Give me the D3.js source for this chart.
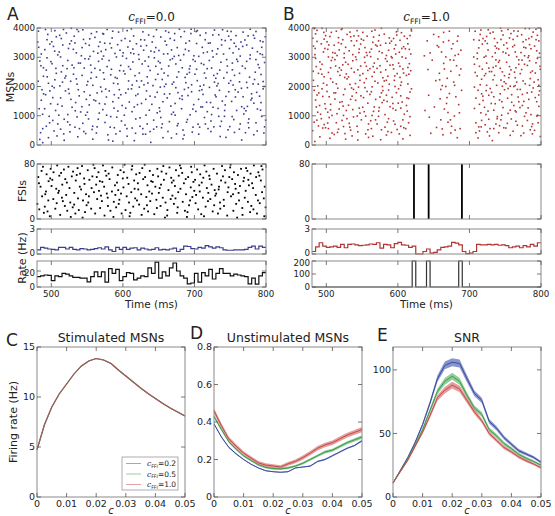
<!DOCTYPE html>
<html><head><meta charset="utf-8">
<script src="https://cdn.jsdelivr.net/npm/d3@7"></script>
<style>body{margin:0;background:#fff}text{font-family:"DejaVu Sans",sans-serif;fill:#222}</style>
</head><body><svg id="c" width="555" height="516"></svg>
<script>
// ---------- DATA ----------
const timeTicks=[500,600,700,800];
const msnTicks=[0,1000,2000,3000,4000];
const fsiTicks=[0,80];
const msnRateTicks=[0,3];
const fsiRateTicksA=[0,20];
const fsiRateTicksB=[0,100,200];
const titles=["0.0","1.0"];
const rateBinWidth=5;

// spike rasters, flat [time(ms), neuron id, ...]
const msnSpikesA=[481,3520,483,1240,484,2870,485,420,486,3110,487,1890,488,560,489,2350,482,3890,486,1530,488,80,489,2640,
491,3260,492,1720,493,640,494,2980,495,3780,496,2110,497,980,498,3450,499,1410,493,2560,496,250,498,1850,494,3600,
501,2780,502,840,503,3370,504,1960,505,3910,506,1180,507,2450,508,310,509,3080,502,1620,505,2230,507,3700,509,720,
511,3180,512,2020,513,540,514,3640,515,1330,516,2710,517,3950,518,880,519,2290,513,1610,516,3420,518,160,514,2500,
521,3830,522,2610,523,1040,524,3300,525,1760,526,450,527,2180,528,3560,529,1290,523,2890,526,690,528,3990,524,1910,
531,2420,532,3720,533,610,534,1450,535,3150,536,2080,537,280,538,2800,539,1680,533,3490,536,960,538,3880,535,2260,
541,1130,542,3050,543,2380,544,740,545,3610,546,1820,547,2950,548,390,549,1560,543,3330,546,2630,548,1020,544,3940,
551,2170,552,890,553,3410,554,1700,555,2730,556,3810,557,530,558,2040,559,3200,553,1370,556,2480,558,200,554,3030,
561,3680,562,1510,563,2320,564,620,565,3140,566,2860,567,1090,568,3520,569,1980,563,410,566,3370,568,2560,564,1780,
571,2940,572,1210,573,3790,574,2250,575,770,576,3260,577,1640,578,2680,579,350,573,3040,576,1910,578,3950,575,1400,
581,1850,582,3470,583,970,584,2590,585,3660,586,1480,587,2110,588,590,589,3130,583,2400,586,130,588,1720,584,3320,
591,3010,592,2280,593,1160,594,3860,595,1890,596,470,597,2720,598,3570,599,1350,593,2090,596,3240,598,820,594,1610,
601,2530,602,1020,603,3640,604,1780,605,2960,606,300,607,3350,608,2190,609,1470,603,680,606,3910,608,2680,604,1260,
611,3150,612,1920,613,580,614,2840,615,3730,616,1300,617,2370,618,890,619,3460,613,2050,616,150,618,1690,614,3280,
621,1740,622,3090,623,2460,624,930,625,3600,626,1420,627,2770,628,370,629,3240,623,1980,626,2190,628,3870,624,640,
631,2870,632,1560,633,3400,634,720,635,2120,636,3760,637,1190,638,2550,639,90,633,1850,636,3010,638,460,634,2330,
641,3520,642,2030,643,850,644,3180,645,1640,646,2690,647,3940,648,1100,649,2420,643,540,646,3330,648,1800,644,2980,
651,1270,652,2810,653,3690,654,590,655,2240,656,1480,657,3110,658,2000,659,3550,653,940,656,250,658,1740,654,2600,
661,3420,662,1610,663,2370,664,3850,665,800,666,2910,667,1330,668,3250,669,2080,663,460,666,3640,668,1050,664,2700,
671,2150,672,3580,673,1020,674,2770,675,380,676,3330,677,1790,678,2500,679,3960,673,1420,676,660,678,3060,674,1960,
681,3700,682,1240,683,2640,684,510,685,3090,686,1900,687,2310,688,3480,689,780,683,1560,686,3880,688,2130,684,210,
691,1690,692,3220,693,2480,694,1030,695,3810,696,2060,697,440,698,2920,699,1380,693,3560,696,1820,698,610,694,2700,
701,2860,702,1150,703,3470,704,2200,705,710,706,3030,707,1860,708,3750,709,1300,703,2590,706,370,708,2010,704,3910,
711,3340,712,1730,713,2750,714,940,715,3600,716,2290,717,1460,718,3180,719,560,713,2050,716,3830,718,1140,714,2460,
721,1970,722,3490,723,820,724,2630,725,3220,726,1290,727,2380,728,3930,729,1710,723,460,726,3010,728,2150,724,1040,
731,3110,732,2440,733,1250,734,3770,735,1870,736,640,737,2830,738,3420,739,1500,733,2100,736,290,738,3600,734,980,
741,2290,742,980,743,3570,744,1660,745,2920,746,3890,747,520,748,2110,749,3300,743,1370,746,2700,748,1820,744,260,
751,3600,752,1490,753,2570,754,3150,755,870,756,2380,757,1890,758,3740,759,1180,753,2800,756,430,758,3370,754,2050,
761,1810,762,3280,763,2160,764,720,765,3520,766,1310,767,2700,768,3860,769,1060,763,2450,766,170,768,1650,764,3040,
771,2620,772,1170,773,3420,774,1960,775,3730,776,590,777,2320,778,3080,779,1540,773,2860,776,890,778,3960,774,1320,
781,3310,782,2090,783,1430,784,3650,785,2490,786,760,787,1800,788,3190,789,2750,783,350,786,3880,788,1230,784,2240,
791,1670,792,3560,793,2410,794,980,795,3090,796,1920,797,410,798,2820,799,3700,793,1450,796,2170,798,620,794,3340,
485.5,2710,487.8,1050,482.3,3340,489.2,1750,483.9,190,481.6,2180,491.8,3950,494.3,2330,497.6,760,490.7,1240,499.4,2850,
500.6,3530,503.8,480,506.4,2620,508.9,1390,501.2,2010,504.7,3210,510.4,1020,512.9,3010,515.6,2150,517.3,380,519.8,1850,511.7,3750,
520.3,2360,522.8,790,525.7,3460,527.4,1560,529.1,2730,530.8,3270,533.5,1170,535.9,3950,537.7,1890,539.3,560,531.6,2640,
540.6,2800,542.7,1310,545.4,460,547.9,3470,549.6,2050,550.4,1120,553.7,3630,555.3,2280,557.8,640,559.5,1540,552.2,2940,
560.9,2620,563.3,3870,565.6,880,567.2,1420,569.7,3200,570.5,1830,572.8,2470,574.6,3480,577.3,1020,579.9,170,571.9,3810,
580.7,2890,582.3,610,585.8,3890,587.6,1260,589.4,2310,590.3,380,592.7,3430,595.5,2540,597.2,1720,599.6,3040,591.4,950,
600.4,3150,602.9,2430,605.7,560,607.5,1910,609.8,3550,610.6,2590,612.8,1140,615.2,3120,617.7,400,619.3,2190,611.9,3970,
620.4,1380,622.6,2930,625.2,3380,627.8,560,629.5,2060,630.3,3590,632.4,1020,635.6,2690,637.9,1670,639.2,3210,631.7,370,
640.5,1390,642.9,3710,645.7,2240,647.2,620,649.6,2860,650.4,3230,652.3,1980,655.1,720,657.6,2460,659.8,3900,651.7,1150,
660.2,2080,662.7,3120,665.4,1750,667.9,240,669.3,2950,670.6,1120,672.4,3810,675.5,2320,677.2,730,679.4,1590,671.8,3030,
680.5,2900,682.8,1680,685.6,340,687.3,3270,689.7,2420,690.2,870,692.9,2600,695.4,3960,697.7,1230,699.3,3050,691.5,1960,
700.7,2420,702.5,3880,705.8,1560,707.3,610,709.6,2790,710.4,1890,712.6,3150,715.3,720,717.8,2610,719.5,3480,711.3,1300,
720.8,2890,722.5,1450,725.7,3760,727.1,620,729.9,2280,730.2,1650,732.6,3290,735.4,2560,737.7,810,739.3,3940,731.4,2020,
740.7,3110,742.2,1180,745.5,2480,747.8,3720,749.4,630,750.6,2200,752.7,970,755.6,3480,757.3,1640,759.1,2930,751.2,3880,
760.4,2860,762.8,540,765.7,1940,767.4,3370,769.6,1250,770.5,3590,772.9,2140,775.2,760,777.6,2950,779.8,1750,771.3,420,
780.3,1600,782.5,3750,785.9,2920,787.7,480,789.2,2080,790.6,2640,792.4,1190,795.7,3530,797.2,2000,799.5,850,791.8,3120];

const msnSpikesB=[481,3650,482,2210,483,780,484,3090,485,1540,486,2680,487,3920,488,1120,489,2450,481,490,482,3380,483,1870,484,120,485,2960,486,1300,487,3540,488,2020,489,650,485,3800,487,1710,
491,2840,492,1050,493,3460,494,1920,495,580,496,3180,497,2330,498,1410,499,3740,491,280,492,2590,493,900,494,3990,495,1660,496,2110,497,700,498,3300,499,1240,494,2760,497,3620,
501,1830,502,3270,503,2480,504,940,505,3710,506,1390,507,2890,508,410,509,2150,501,3530,502,1120,503,3010,504,1650,505,230,506,2640,507,3850,508,1010,509,3160,503,560,506,2270,
511,3410,512,1570,513,2700,514,760,515,3060,516,1940,517,3670,518,1230,519,2380,511,360,512,2920,513,1780,514,3890,515,1070,516,2510,517,540,518,3250,519,1460,514,2090,517,3500,
521,2560,522,840,523,3600,524,1720,525,2980,526,390,527,3340,528,1180,529,2260,521,3950,522,1480,523,2740,524,630,525,3130,526,1910,527,200,528,2430,529,3780,524,1010,527,2830,
531,1360,532,3220,533,2070,534,510,535,3560,536,1670,537,2880,538,960,539,3400,531,2330,532,740,533,3860,534,1560,535,2620,536,310,537,3090,538,1900,539,2490,534,3700,537,1210,
541,3010,542,1790,543,640,544,2570,545,3730,546,1260,547,2210,548,3450,549,860,541,1530,542,2920,543,3910,544,450,545,1980,546,3280,547,1090,548,2700,549,3620,544,170,547,2380,
551,2440,552,3580,553,1140,554,2820,555,380,556,3160,557,1830,558,2550,559,720,551,3850,552,1620,553,2130,554,3330,555,990,556,2690,557,3720,558,1430,559,260,554,1960,557,3060,
561,1730,562,3020,563,560,564,2340,565,3510,566,1150,567,2800,568,3930,569,1560,561,2610,562,830,563,3280,564,1990,565,300,566,3690,567,1300,568,2180,569,3420,564,1010,567,2490,
571,3380,572,2120,573,980,574,3750,575,1640,576,2490,577,520,578,3150,579,1860,571,720,572,2940,573,3560,574,1280,575,2710,576,180,577,3990,578,1450,579,2300,574,3200,577,1780,
581,2190,582,1040,583,3480,584,1700,585,2860,586,460,587,3240,588,2080,589,1310,581,3790,582,610,583,2570,584,3060,585,1490,586,2350,587,900,588,3660,589,2730,584,340,587,1880,
591,3550,592,1630,593,2740,594,820,595,3290,596,2000,597,1190,598,3870,599,2440,591,430,592,2980,593,1420,594,3640,595,2210,596,710,597,3110,598,1790,599,530,594,2600,597,3420,
601,1920,602,3170,603,2310,604,640,605,3840,606,1470,607,2600,608,3360,609,1050,601,2800,602,380,603,3580,604,1680,605,2150,606,3010,607,860,608,2460,609,3720,604,1260,607,210,
611,2970,612,1350,613,3640,614,2090,615,760,616,3270,617,1810,618,2540,619,3900,611,560,612,2380,613,1160,614,3460,615,1590,616,2780,617,330,618,3110,619,1920,614,2650,617,3740,
637,3050,638,1180,
641,3560,642,2580,643,1700,644,950,645,3150,646,400,648,2900,650,3780,651,1300,653,2200,654,600,655,3400,
657,3700,658,2450,659,1580,660,860,661,3180,662,2030,663,350,664,2790,665,1230,657,3350,660,1900,662,550,664,3850,665,2600,
667,3010,668,1420,669,2280,670,780,671,3570,672,1760,673,2910,674,410,675,3290,667,2000,670,1110,672,3890,674,2520,675,640,
677,3460,678,2150,679,990,680,3060,681,1650,682,2710,683,250,684,3720,685,1380,686,2390,687,560,688,3240,689,1870,678,2900,680,510,683,3550,686,1100,688,2600,
706,3600,707,1250,708,2480,709,760,706,3010,707,1980,708,3890,709,420,707,2760,709,1600,
711,3140,712,1870,713,620,714,2690,715,3780,716,1100,717,2250,718,3450,719,1520,711,2950,712,240,713,3320,714,1390,715,2060,716,3930,717,840,718,2590,719,3640,714,480,717,1750,
721,2370,722,3560,723,1040,724,2800,725,450,726,3250,727,1700,728,2510,729,3820,721,1290,722,690,723,3040,724,2040,725,3470,726,1160,727,2630,728,310,729,1930,724,3710,727,880,
731,1800,732,3020,733,2230,734,560,735,3640,736,1410,737,2700,738,3310,739,970,731,2510,732,150,733,3860,734,1650,735,2380,736,3150,737,720,738,2040,739,3500,734,1190,737,2910,
741,3280,742,1540,743,2620,744,860,745,3900,746,2010,747,1280,748,3420,749,2370,741,420,742,2890,743,1750,744,3610,745,1020,746,2500,747,3180,748,590,749,1890,744,2220,747,3760,
751,2100,752,3490,753,740,754,1930,755,3070,756,2680,757,1190,758,3810,759,1460,751,580,752,2830,753,3300,754,1080,755,2300,756,3660,757,330,758,2570,759,1720,754,3950,757,2010,
761,3610,762,1350,763,2490,764,3180,765,810,766,2150,767,3720,768,1640,769,2910,761,470,762,2000,763,3410,764,1170,765,2640,766,3020,767,680,768,3890,769,1480,764,2300,767,1900,
771,1900,772,3160,773,2580,774,650,775,3530,776,1490,777,2760,778,3980,779,1100,771,2440,772,320,773,3770,774,1730,775,2190,776,3340,777,980,778,2090,779,3600,774,1350,777,3050,
781,2720,782,1270,783,3640,784,2040,785,520,786,3290,787,1810,788,2530,789,3860,781,840,782,2990,783,1560,784,3430,785,2270,786,1040,787,3700,788,380,789,1950,784,2880,787,630,
791,3380,792,1620,793,2810,794,990,795,3750,796,2230,797,1320,798,3140,799,2590,791,500,792,2460,793,3960,794,1480,795,2960,796,760,797,3560,798,1850,799,290,794,3220,797,2040,
481.7,2520,484.4,3300,486.8,850,489.5,1780,483.1,3980,490.6,1350,493.8,2420,496.5,3850,498.9,590,
500.8,2050,503.4,3420,505.9,1200,508.6,2990,501.9,750,510.7,1780,512.2,3140,515.7,430,518.3,2640,
520.9,3460,523.5,1330,525.8,2310,528.7,900,522.1,3980,530.5,2760,532.8,610,535.3,1950,538.6,3730,
540.7,2100,543.2,990,545.6,3160,548.3,1680,542.4,3560,550.8,1290,553.4,3000,555.9,2270,558.2,520,
560.6,3170,562.9,1820,565.4,2680,568.8,860,563.7,3890,570.9,2620,573.3,1160,575.7,3410,578.5,2000,
580.4,1530,582.7,2950,585.3,780,588.6,3480,583.9,2210,590.8,3020,593.2,1250,595.6,2360,598.4,3760,
600.5,1430,602.8,2690,605.5,3300,608.3,590,603.9,2040,610.5,3290,612.7,1610,615.4,2420,618.8,3960,616.9,970,
658.4,2230,663.6,3520,668.6,1620,673.4,860,679.3,2040,684.6,3100,
710.8,2360,713.6,3580,716.4,620,718.7,1670,720.6,3000,723.4,1860,726.3,3940,728.8,560,722.7,2440,
730.5,1420,733.2,2650,735.9,3380,738.7,900,740.7,2830,743.5,3990,745.3,1480,748.6,2160,742.1,660,
750.8,3140,753.3,1600,755.8,2420,758.5,890,760.5,3360,763.8,2030,765.4,1130,768.9,2760,762.1,3900,
770.6,1280,773.5,2900,775.8,410,778.7,3320,780.7,1780,782.9,3050,785.5,2480,788.2,720,783.7,3980,
790.4,2150,793.1,3600,795.3,1020,798.6,2690,796.8,1710];

const fsiSpikesA=[480.5,22,481.8,61,483.2,14,484.9,47,486.4,70,487.1,33,489.6,9,482.7,52,488.3,76,
490.9,18,492.6,40,493.4,65,495.8,27,496.2,55,497.9,4,499.1,73,491.5,36,498.4,59,494.7,11,
500.3,48,502.8,29,503.1,68,505.6,15,506.9,44,508.2,78,501.4,57,507.5,23,509.7,38,
511.2,63,512.4,6,514.8,31,515.3,50,517.6,72,518.9,19,510.6,41,516.1,26,519.5,58,513.7,67,
520.8,35,522.3,12,523.9,76,525.4,45,527.2,3,528.6,62,521.7,53,526.5,24,529.9,17,
530.4,69,532.1,38,533.6,8,534.2,56,536.7,74,537.3,30,539.8,47,531.9,21,535.5,64,538.4,13,
541.6,43,542.9,77,544.3,27,545.8,59,547.1,10,548.5,36,540.2,66,546.4,51,549.3,20,543.7,2,
550.9,71,552.5,33,553.2,57,555.7,15,556.3,45,558.8,79,551.6,24,557.4,62,559.6,39,
561.3,8,562.7,50,564.1,29,565.9,68,566.6,41,568.2,16,560.5,74,567.8,55,569.4,34,563.5,61,
570.7,26,572.2,78,573.8,47,574.4,5,576.9,63,577.5,37,579.1,19,571.3,54,575.6,70,578.8,31,
581.4,58,582.6,12,584.7,40,585.2,75,587.3,25,588.9,49,580.1,66,586.8,3,589.5,35,
590.6,17,592.9,64,593.5,42,595.1,28,596.7,71,598.3,8,591.8,53,597.4,37,599.9,59,594.2,22,
600.8,46,602.4,79,603.7,13,605.3,33,606.1,60,608.6,24,601.2,68,607.9,51,609.4,4,
611.7,39,612.3,72,614.5,18,615.8,56,617.2,30,618.6,65,610.4,9,616.4,44,619.7,27,613.1,77,
620.9,52,622.7,21,623.3,67,625.6,36,626.2,6,628.4,58,621.5,43,627.1,74,629.8,15,
631.1,61,632.8,32,634.4,49,635.2,11,637.6,70,638.3,26,630.5,79,636.9,40,639.5,55,633.7,20,
640.7,37,642.1,64,643.9,7,645.4,47,646.8,28,648.2,73,641.6,54,647.5,16,649.3,62,
651.4,45,652.6,19,654.1,69,655.7,31,657.3,57,658.8,2,650.2,38,656.5,77,659.6,24,653.3,50,
660.6,66,662.2,13,663.7,42,665.1,75,666.8,29,668.4,53,661.9,5,667.5,60,669.2,34,
671.3,22,672.7,48,674.2,71,675.9,9,677.4,39,678.1,63,670.8,56,676.6,17,679.7,78,673.5,30,
680.4,44,682.9,67,683.6,25,685.3,52,686.7,12,688.2,36,681.1,74,687.8,58,689.5,3,
691.2,61,692.5,20,694.8,46,695.4,76,697.1,32,698.6,54,690.3,10,696.3,68,699.8,41,693.9,27,
700.9,57,702.3,35,703.8,72,705.2,14,706.7,49,708.1,65,701.6,23,707.4,40,709.5,7,
711.8,31,712.4,60,714.1,78,715.6,18,717.3,45,718.9,26,710.2,53,716.7,69,719.4,38,713.3,4,
720.7,63,722.2,29,723.9,50,725.5,11,726.8,73,728.3,42,721.4,58,727.6,20,729.1,34,
731.5,66,732.9,8,734.3,47,735.7,24,737.2,56,738.6,77,730.4,37,736.1,15,739.8,62,733.8,43,
740.9,28,742.6,71,743.2,53,745.8,5,746.4,39,748.7,61,741.3,19,747.5,46,749.9,75,
751.1,33,752.7,58,754.4,12,755.2,68,757.6,44,758.3,22,750.5,79,756.8,51,759.7,2,753.9,36,
760.8,64,762.3,27,763.6,48,765.1,73,766.9,16,768.5,55,761.7,38,767.2,6,769.4,60,
771.6,41,772.2,74,774.7,25,775.3,57,777.8,10,778.4,66,770.3,31,776.1,49,779.5,19,773.9,70,
780.6,52,782.4,14,783.1,78,785.7,35,786.2,61,788.8,27,781.9,45,787.4,8,789.3,68,
791.3,23,792.8,56,794.5,39,795.1,72,797.6,4,798.2,47,790.7,63,796.9,30,799.4,17,793.6,77];

// synchronous FSI volleys in B (all 80 FSIs fire)
const fsiSyncTimesB=[622.5,643,689.5];
const fsiCount=80;

// population rates in 5 ms bins from 480 ms
const msnRateA=[0.5,0.8,0.7,0.6,0.55,0.5,0.8,0.8,0.6,0.8,0.55,0.5,0.65,0.6,0.5,0.55,0.65,0.75,0.6,0.85,0.5,0.3,0.8,0.55,0.8,0.55,0.7,0.75,0.5,0.7,0.6,0.5,0.55,0.75,0.5,0.55,0.5,0.6,0.7,0.3,0.55,0.95,0.9,0.65,0.6,0.8,0.7,1.0,0.85,0.7,0.85,0.75,0.5,0.45,0.45,0.5,0.5,0.5,0.55,0.8,0.95,0.6,0.95,0.8];
const fsiRateA=[13,14,15,14.5,8,14,13,17,16,14,12,12,11,11,6.5,13,19,13,19,6,23,17,22,8,13,18,17,9,11,14,13,24,17,31,11,19,14,24,30,20,14,11,4,5,17,6,18,14,22,10,17,23,17,17,14,16,15,14,13,4,11,3.5,14,18];
const msnRateB=[0.3,0.85,1.35,0.95,0.8,0.85,0.95,0.8,1.15,0.75,1.15,1.2,1.1,1.0,1.05,1.1,1.2,1.15,1.35,0.7,1.15,1.1,0.75,1.25,1.4,1.1,1.05,0.8,0.95,0,0,0.3,0.6,0.1,0.2,0.5,0.8,0.85,0.95,1.4,1.3,1.1,0.3,0.05,0.1,0.3,1.15,1.1,1.1,1.15,1.1,1.15,1.05,1.1,1.0,0.75,0.85,0.95,0.75,1.0,0.85,1.15,0.95,1.35];
const fsiRateB=[0,0,0,0,0,0,0,0,0,0,0,0,0,0,0,0,0,0,0,0,0,0,0,0,0,0,0,0,200,0,0,0,200,0,0,0,0,0,0,0,0,200,0,0,0,0,0,0,0,0,0,0,0,0,0,0,0,0,0,0,0,0,0,0];

// bottom row: input correlation c
const cValues=[0,0.0025,0.005,0.0075,0.01,0.0125,0.015,0.0175,0.02,0.0225,0.025,0.0275,0.03,0.0325,0.035,0.0375,0.04,0.0425,0.045,0.0475,0.05];
const cTicks=[0,0.01,0.02,0.03,0.04,0.05];
const ffiLabels=["0.2","0.5","1.0"];
const stimRate02=[4.7,7.2,9.0,10.3,11.3,12.3,13.1,13.6,13.85,13.7,13.35,12.7,12.1,11.5,10.9,10.35,9.85,9.35,8.9,8.5,8.1];
const stimRate05=[4.7,7.2,9.0,10.3,11.3,12.3,13.1,13.6,13.85,13.7,13.35,12.7,12.1,11.5,10.9,10.35,9.85,9.35,8.9,8.5,8.1];
const stimRate10=[4.75,7.25,9.0,10.3,11.3,12.3,13.1,13.6,13.85,13.7,13.35,12.7,12.1,11.5,10.9,10.35,9.85,9.35,8.9,8.5,8.1];
const stimTicks=[0,5,10,15];
const unstim02=[0.39,0.32,0.265,0.23,0.2,0.175,0.155,0.14,0.135,0.132,0.135,0.155,0.16,0.165,0.19,0.2,0.22,0.24,0.26,0.275,0.3];
const unstim05=[0.43,0.36,0.295,0.255,0.22,0.195,0.172,0.158,0.152,0.15,0.155,0.165,0.18,0.2,0.22,0.24,0.25,0.27,0.29,0.305,0.32];
const unstim10=[0.46,0.38,0.31,0.27,0.234,0.208,0.182,0.17,0.165,0.16,0.177,0.19,0.21,0.234,0.26,0.278,0.29,0.31,0.33,0.345,0.36];
const unstimErr02=[0.005,0.004,0.004,0.004,0.003,0.003,0.003,0.003,0.003,0.003,0.003,0.003,0.003,0.003,0.004,0.004,0.004,0.004,0.004,0.004,0.005];
const unstimErr05=[0.009,0.008,0.007,0.007,0.006,0.006,0.006,0.006,0.006,0.006,0.006,0.006,0.007,0.007,0.007,0.008,0.008,0.008,0.008,0.009,0.009];
const unstimErr10=[0.014,0.013,0.012,0.011,0.01,0.01,0.01,0.01,0.01,0.01,0.01,0.01,0.011,0.011,0.012,0.012,0.012,0.013,0.013,0.013,0.014];
const unstimTicks=[0,0.2,0.4,0.6,0.8];
const snr02=[11,21,31,43,57,74,93,103.5,106,105,93,81.5,76,59.5,54,46.7,41.5,36.4,33.8,31.2,27.3];
const snr05=[11,20.5,30,41,53,68,83,91,95,91,80,70,65,53,48,42,38,33.5,30.5,28,25];
const snr10=[11,20,29,40,51,64,78,84,88,85,76,67,60,50,44.5,39,35.5,31.5,28.5,26,23];
const snrErr02=[0.6,0.8,1,1.2,1.5,2,2.5,3,3.2,3.2,2.8,2.3,2,1.8,1.6,1.5,1.4,1.3,1.2,1.1,1];
const snrErr05=[0.6,0.8,1,1.2,1.5,1.8,2.2,2.6,2.8,2.6,2.3,2,1.8,1.6,1.5,1.4,1.3,1.2,1.1,1,1];
const snrErr10=[0.6,0.8,1,1.2,1.5,1.8,2.2,2.5,2.6,2.5,2.2,2,1.8,1.6,1.5,1.4,1.3,1.2,1.1,1,1];
const snrTicks=[0,50,100];

// ---------- DRAWING ----------
const svg=d3.select("#c");
const FR="#8a8a8a", TK="#555";
const colMSNA="#3c3c8c", colMSNB="#b03434";
const cols=["#3e4c9e","#3e9a4c","#c44a4a"];
const bands=["#7482c4","#7cc488","#e08a8a"];

function pairs(a){const r=[];for(let i=0;i<a.length;i+=2)r.push({t:a[i],n:a[i+1]});return r;}

function axesBox(x,y,xt,yt,o){
  const [x0,x1]=x.range(), [y1,y0]=y.range();
  const g=svg.append("g");
  g.append("rect").attr("x",x0).attr("y",y0).attr("width",x1-x0).attr("height",y1-y0)
    .attr("fill","none").attr("stroke",FR).attr("stroke-width",1);
  const L=o.tick||4;
  xt.forEach(v=>{const px=x(v);
    g.append("line").attr("x1",px).attr("x2",px).attr("y1",y1).attr("y2",y1-L).attr("stroke",TK).attr("stroke-width",0.8);
    g.append("line").attr("x1",px).attr("x2",px).attr("y1",y0).attr("y2",y0+L).attr("stroke",TK).attr("stroke-width",0.8);
    if(o.xlabels) g.append("text").attr("x",px).attr("y",y1+10).attr("text-anchor","middle")
      .attr("font-size",o.fs||8.7).text(o.xfmt?o.xfmt(v):v);
  });
  yt.forEach((v,k)=>{const py=y(v);
    g.append("line").attr("x1",x0).attr("x2",x0+L).attr("y1",py).attr("y2",py).attr("stroke",TK).attr("stroke-width",0.8);
    g.append("line").attr("x1",x1).attr("x2",x1-L).attr("y1",py).attr("y2",py).attr("stroke",TK).attr("stroke-width",0.8);
    let nudge=0;
    if(o.nudgeBottom&&k===0) nudge=-1.5;
    if(o.nudgeTop&&k===yt.length-1) nudge=1.5;
    g.append("text").attr("x",x0-2).attr("y",py+nudge).attr("dy","0.35em").attr("text-anchor","end")
      .attr("font-size",o.fs||8.7).text(o.yfmt?o.yfmt(v):v);
  });
  return g;
}
function ylab(x,y,t,fs){svg.append("text").attr("transform",`translate(${x},${y}) rotate(-90)`)
  .attr("dy","0.35em").attr("text-anchor","middle").attr("font-size",fs).text(t);}
function letter(x,y,t){svg.append("text").attr("x",x).attr("y",y).attr("font-size",17).text(t);}
function ffiText(sel,val,fs){
  sel.append("tspan").attr("font-family","DejaVu Serif").attr("font-style","italic").text("c");
  sel.append("tspan").attr("font-size",fs*0.62).attr("dy",fs*0.22).text("FFI");
  sel.append("tspan").attr("dy",-fs*0.22).text("="+val);
}

const cols2=[{x0:37,x1:266,msn:msnSpikesA,mc:colMSNA,mr:msnRateA,fr:fsiRateA,frT:fsiRateTicksA,frMax:32.5,frC:"#111"},
             {x0:312,x1:541,msn:msnSpikesB,mc:colMSNB,mr:msnRateB,fr:fsiRateB,frT:fsiRateTicksB,frMax:200,frC:"#333"}];
cols2.forEach((P,i)=>{
  const x=d3.scaleLinear().domain([480,800]).range([P.x0,P.x1]);
  const yM=d3.scaleLinear().domain([0,4000]).range([145,28]);
  svg.append("g").selectAll("rect").data(pairs(P.msn)).join("rect")
    .attr("x",d=>x(d.t)-0.8).attr("y",d=>yM(d.n)-0.8).attr("width",1.6).attr("height",1.6).attr("fill",P.mc);
  axesBox(x,yM,timeTicks,msnTicks,{});
  const tt=svg.append("text").attr("x",(P.x0+P.x1)/2).attr("y",21).attr("text-anchor","middle").attr("font-size",12);
  ffiText(tt,titles[i],12);
  const yF=d3.scaleLinear().domain([0,80]).range([219,164]);
  if(i===0){
    svg.append("g").selectAll("rect").data(pairs(fsiSpikesA)).join("rect")
      .attr("x",d=>x(d.t)-0.9).attr("y",d=>yF(d.n)-0.9).attr("width",1.8).attr("height",1.8).attr("fill","#000");
  } else {
    svg.append("g").selectAll("line").data(fsiSyncTimesB).join("line")
      .attr("x1",d=>x(d)).attr("x2",d=>x(d)).attr("y1",yF(0)).attr("y2",yF(fsiCount))
      .attr("stroke","#000").attr("stroke-width",1.8);
  }
  axesBox(x,yF,timeTicks,fsiTicks,{});
  const yR=d3.scaleLinear().domain([0,3]).range([254,229]);
  const stepPts=arr=>{const p=arr.map((v,k)=>[480+k*rateBinWidth,v]);p.push([800,arr[arr.length-1]]);return p;};
  svg.append("path").attr("d",d3.line().x(d=>x(d[0])).y(d=>yR(d[1])).curve(d3.curveStepAfter)(stepPts(P.mr)))
    .attr("fill","none").attr("stroke",P.mc).attr("stroke-width",1.2);
  axesBox(x,yR,timeTicks,msnRateTicks,{nudgeBottom:true});
  const yQ=d3.scaleLinear().domain([0,P.frMax]).range([287,261]);
  svg.append("path").attr("d",d3.line().x(d=>x(d[0])).y(d=>yQ(d[1])).curve(d3.curveStepAfter)(stepPts(P.fr)))
    .attr("fill","none").attr("stroke",P.frC).attr("stroke-width",1.2);
  axesBox(x,yQ,timeTicks,P.frT,{xlabels:true,nudgeTop:true});
  svg.append("text").attr("x",(P.x0+P.x1)/2).attr("y",308).attr("text-anchor","middle").attr("font-size",10.5).text("Time (ms)");
});
letter(7,20,"A"); letter(283,20,"B");
ylab(10,87,"MSNs",11); ylab(22,191,"FSIs",11); ylab(22,258,"Rate (Hz)",11);

// bottom row
const TOP=347, BOT=497;
const cfmt=v=>v===0?"0":d3.format(".2f")(v);
const panels=[
  {x0:37,x1:185,dom:[0,15],ticks:stimTicks,series:[stimRate02,stimRate05,stimRate10],err:null,title:"Stimulated MSNs",yfmt:v=>v},
  {x0:214,x1:362,dom:[0,0.8],ticks:unstimTicks,series:[unstim02,unstim05,unstim10],err:[unstimErr02,unstimErr05,unstimErr10],title:"Unstimulated MSNs",yfmt:v=>v===0?"0":d3.format(".1f")(v)},
  {x0:393,x1:541,dom:[0,118],ticks:snrTicks,series:[snr02,snr05,snr10],err:[snrErr02,snrErr05,snrErr10],title:"SNR",yfmt:v=>v}
];
panels.forEach(P=>{
  const x=d3.scaleLinear().domain([0,0.05]).range([P.x0,P.x1]);
  const y=d3.scaleLinear().domain(P.dom).range([BOT,TOP]);
  if(P.err) P.series.forEach((s,k)=>{
    const e=P.err[k];
    svg.append("path").attr("d",d3.area().x((d,j)=>x(cValues[j])).y0((d,j)=>y(d-e[j])).y1((d,j)=>y(d+e[j]))(s))
      .attr("fill",bands[k]).attr("opacity",0.85);
  });
  P.series.forEach((s,k)=>{
    svg.append("path").attr("d",d3.line().x((d,j)=>x(cValues[j])).y(d=>y(d))(s))
      .attr("fill","none").attr("stroke",cols[k]).attr("stroke-width",P.err?1:1.1).attr("stroke-opacity",P.err?1:0.75);
  });
  axesBox(x,y,cTicks,P.ticks,{xlabels:true,xfmt:cfmt,yfmt:P.yfmt,fs:9.5});
  svg.append("text").attr("x",(P.x0+P.x1)/2).attr("y",TOP-5).attr("text-anchor","middle").attr("font-size",12.5).text(P.title);
  svg.append("text").attr("x",(P.x0+P.x1)/2).attr("y",514).attr("text-anchor","middle").attr("font-size",10)
    .attr("font-family","DejaVu Serif").attr("font-style","italic").text("c");
});
letter(6,346,"C"); letter(190,339,"D"); letter(377,341,"E");
ylab(13,422,"Firing rate (Hz)",11);

// legend
const lg=svg.append("g");
lg.append("rect").attr("x",122).attr("y",457).attr("width",56).attr("height",33).attr("fill","#fff").attr("stroke","#999").attr("stroke-width",0.8);
ffiLabels.forEach((l,k)=>{
  const yy=463.5+k*10.5;
  lg.append("line").attr("x1",126).attr("x2",141).attr("y1",yy).attr("y2",yy).attr("stroke",cols[k]).attr("stroke-opacity",0.5).attr("stroke-width",1);
  const t=lg.append("text").attr("x",147).attr("y",yy).attr("dy","0.35em").attr("font-size",7.5);
  ffiText(t,l,7.5);
});
</script></body></html>
